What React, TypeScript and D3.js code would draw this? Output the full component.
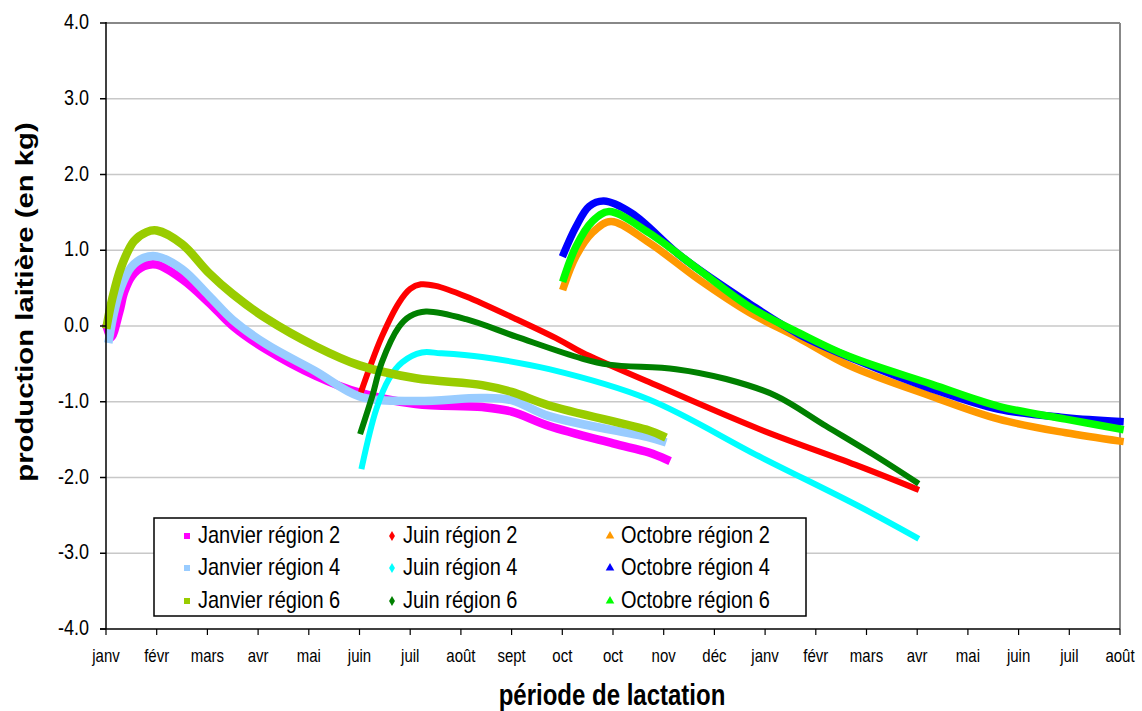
import * as d3 from 'd3'
import React from 'react'

// month labels along the lactation period (index 0..20)
const monthLabels = ['janv', 'févr', 'mars', 'avr', 'mai', 'juin', 'juil', 'août', 'sept', 'oct', 'oct', 'nov', 'déc', 'janv', 'févr', 'mars', 'avr', 'mai', 'juin', 'juil', 'août']
const yTicks = [-4, -3, -2, -1, 0, 1, 2, 3, 4]

// [month index, kg]
const janvier2: [number, number][] = [[0.02, -0.02], [0.1, -0.15], [0.26, 0.18], [0.36, 0.45], [0.51, 0.66], [0.75, 0.79], [1.0, 0.81], [1.5, 0.62], [2.03, 0.31], [2.5, 0.0], [3.16, -0.31], [4.14, -0.66], [5.0, -0.88], [6.11, -1.03], [7.42, -1.07], [8.0, -1.13], [8.74, -1.32], [10.0, -1.55], [10.71, -1.67], [11.05, -1.76]]
const janvier4: [number, number][] = [[0.06, -0.17], [0.16, 0.18], [0.3, 0.52], [0.5, 0.78], [0.75, 0.9], [1.0, 0.92], [1.5, 0.75], [2.03, 0.4], [2.5, 0.08], [3.16, -0.24], [4.14, -0.6], [5.0, -0.93], [6.11, -0.99], [7.42, -0.95], [8.0, -0.98], [8.74, -1.19], [10.71, -1.47], [10.97, -1.52]]
const janvier6: [number, number][] = [[0.02, 0.02], [0.12, 0.35], [0.3, 0.78], [0.55, 1.12], [0.8, 1.24], [1.0, 1.26], [1.5, 1.08], [2.03, 0.7], [2.5, 0.42], [3.16, 0.1], [4.14, -0.27], [5.0, -0.52], [6.11, -0.69], [7.42, -0.78], [8.0, -0.87], [8.74, -1.05], [10.71, -1.38], [10.97, -1.45]]
const juin2: [number, number][] = [[5.03, -0.87], [5.19, -0.57], [5.44, -0.14], [5.78, 0.31], [6.0, 0.49], [6.21, 0.55], [6.5, 0.53], [7.1, 0.39], [8.09, 0.09], [8.93, -0.18], [9.39, -0.35], [10.71, -0.74], [12.88, -1.36], [14.85, -1.85], [15.98, -2.15]]
const juin4: [number, number][] = [[5.05, -1.85], [5.33, -1.1], [5.58, -0.7], [5.84, -0.48], [6.23, -0.35], [6.6, -0.36], [7.42, -0.41], [8.74, -0.57], [10.71, -0.97], [12.88, -1.72], [14.85, -2.38], [15.98, -2.79]]
const juin6: [number, number][] = [[5.03, -1.39], [5.25, -0.93], [5.44, -0.48], [5.78, -0.01], [6.0, 0.13], [6.31, 0.19], [7.1, 0.09], [8.09, -0.14], [9.39, -0.43], [9.92, -0.51], [11.24, -0.57], [12.23, -0.7], [13.21, -0.92], [14.2, -1.32], [15.19, -1.72], [15.98, -2.06]]
const octobre2: [number, number][] = [[9.03, 0.52], [9.27, 0.92], [9.59, 1.23], [9.96, 1.38], [10.71, 1.1], [11.7, 0.61], [12.68, 0.18], [13.67, -0.16], [14.65, -0.52], [16.29, -0.93], [17.61, -1.23], [18.93, -1.41], [20.0, -1.52]]
const octobre4: [number, number][] = [[9.03, 0.96], [9.27, 1.31], [9.53, 1.58], [9.82, 1.65], [10.37, 1.49], [11.36, 0.91], [12.68, 0.3], [13.67, -0.11], [14.8, -0.45], [16.29, -0.83], [17.61, -1.1], [18.93, -1.21], [20.0, -1.26]]
const octobre6: [number, number][] = [[9.03, 0.63], [9.27, 1.05], [9.59, 1.38], [9.92, 1.51], [10.71, 1.23], [11.7, 0.74], [12.68, 0.26], [13.67, -0.09], [14.65, -0.4], [16.29, -0.77], [17.61, -1.06], [18.93, -1.23], [20.0, -1.36]]

type Shape = 'square' | 'diamond' | 'triangle'
interface Serie { name: string, color: string, shape: Shape, data: [number, number][] }

// legend order (row by row)
const series: Serie[] = [
  { name: 'Janvier région 2', color: '#FF00FF', shape: 'square', data: janvier2 },
  { name: 'Juin région 2', color: '#FF0000', shape: 'diamond', data: juin2 },
  { name: 'Octobre région 2', color: '#FF9900', shape: 'triangle', data: octobre2 },
  { name: 'Janvier région 4', color: '#99CCFF', shape: 'square', data: janvier4 },
  { name: 'Juin région 4', color: '#00FFFF', shape: 'diamond', data: juin4 },
  { name: 'Octobre région 4', color: '#0000FF', shape: 'triangle', data: octobre4 },
  { name: 'Janvier région 6', color: '#99CC00', shape: 'square', data: janvier6 },
  { name: 'Juin région 6', color: '#008000', shape: 'diamond', data: juin6 },
  { name: 'Octobre région 6', color: '#00FF00', shape: 'triangle', data: octobre6 },
]

const strokeFor: Record<Shape, number> = { square: 8.5, diamond: 6, triangle: 7.5 }
const font = '"Liberation Sans", Arial, sans-serif'
const SY = 1.2 // text in the reference is stretched vertically

const T = ({ x, y, size, anchor = 'start', bold = false, children }: any) =>
  <g transform={`translate(${x},${y}) scale(1,${SY})`}>
    <text fontFamily={font} fontSize={size} textAnchor={anchor} fontWeight={bold ? 'bold' : 'normal'} fill='#000'>{children}</text>
  </g>

const Marker = ({ shape, color, x, y }: { shape: Shape, color: string, x: number, y: number }) => {
  if (shape === 'square') return <rect x={x - 3} y={y - 3} width={6} height={6} fill={color} />
  const sym = d3.symbol().type(shape === 'diamond' ? d3.symbolDiamond : d3.symbolTriangle).size(shape === 'diamond' ? 30 : 32)
  return <path d={sym() as string} transform={`translate(${x},${y})`} fill={color} />
}

export default function App() {
  const
    width = 1142, height = 711,
    left = 106, right = 1120, top = 23, bottom = 629,
    x = d3.scaleLinear().domain([0, 20]).range([left, right]),
    y = d3.scaleLinear().domain([-4, 4]).range([bottom, top]),
    line = d3.line<[number, number]>().x(d => x(d[0])).y(d => y(d[1])).curve(d3.curveCatmullRom.alpha(0.5))

  const legendCols = [187, 392, 610], legendRows = [536, 568, 601]

  return (
    <svg width={width} height={height} style={{ display: 'block', position: 'absolute', left: 0, top: 0 }}>
      <rect width={width} height={height} fill='#fff' />
      {/* gridlines */}
      {yTicks.filter(t => t > -4 && t < 4).map(t =>
        <line key={t} x1={left} x2={right} y1={y(t)} y2={y(t)} stroke='#c8c8c8' strokeWidth={1.5} />)}
      {/* plot frame top / right */}
      <line x1={left} x2={right} y1={top} y2={top} stroke='#888' strokeWidth={2} />
      <line x1={right} x2={right} y1={top} y2={bottom} stroke='#888' strokeWidth={2} />

      {/* series */}
      {series.map(s =>
        <path key={s.name} d={line(s.data) as string} fill='none' stroke={s.color}
          strokeWidth={strokeFor[s.shape]} strokeLinejoin='round' strokeLinecap='square' />)}

      {/* axes */}
      <line x1={left} x2={left} y1={top - 1} y2={bottom} stroke='#000' strokeWidth={1.5} />
      <line x1={left - 6} x2={right} y1={bottom} y2={bottom} stroke='#000' strokeWidth={1.5} />
      {yTicks.map(t =>
        <g key={t}>
          <line x1={left - 6} x2={left} y1={y(t)} y2={y(t)} stroke='#000' strokeWidth={1.5} />
          <T x={89} y={y(t) + 6} size={18} anchor='end'>{t.toFixed(1)}</T>
        </g>)}
      {monthLabels.map((m, i) =>
        <g key={i}>
          <line x1={x(i)} x2={x(i)} y1={bottom} y2={bottom + 6} stroke='#000' strokeWidth={1.2} />
          <T x={x(i)} y={662} size={15} anchor='middle'>{m}</T>
        </g>)}

      {/* axis titles */}
      <T x={612} y={705} size={24} anchor='middle' bold>période de lactation</T>
      <g transform={`translate(33,302) rotate(-90) scale(1.22,1)`}>
        <text fontFamily={font} fontSize={24} fontWeight='bold' textAnchor='middle'>production laitière (en kg)</text>
      </g>

      {/* legend */}
      <rect x={154} y={518} width={652} height={98} fill='#fff' stroke='#000' strokeWidth={1.5} />
      {series.map((s, i) => {
        const cx = legendCols[i % 3], cy = legendRows[Math.floor(i / 3)]
        return <g key={s.name}>
          <Marker shape={s.shape} color={s.color} x={cx} y={cy} />
          <T x={cx + 11} y={cy + 7} size={20}>{s.name}</T>
        </g>
      })}
    </svg>
  )
}
